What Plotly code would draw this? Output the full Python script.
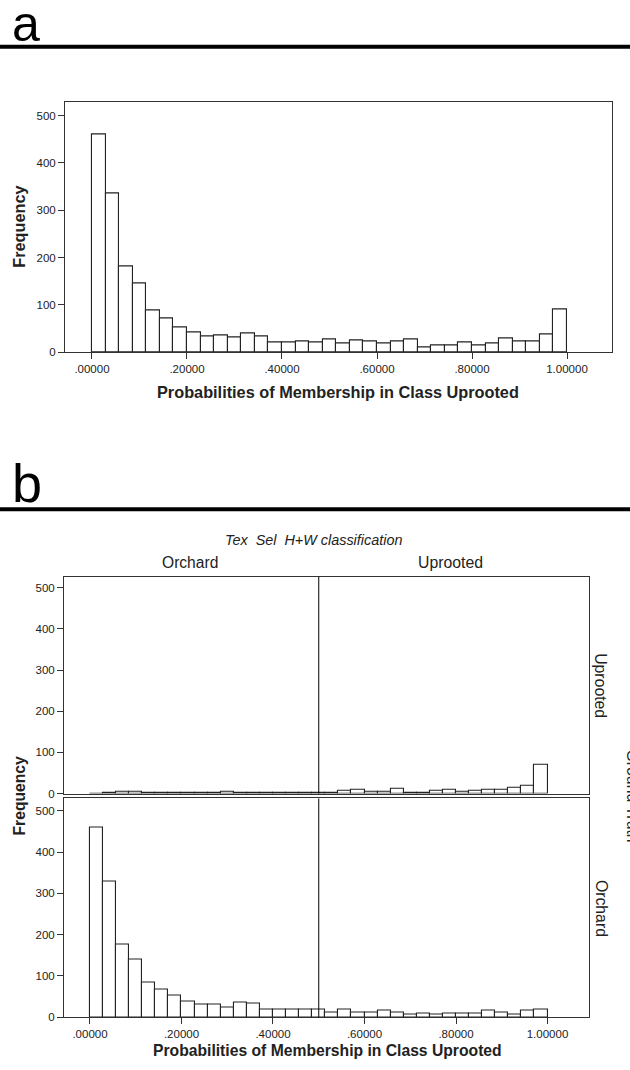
import numpy as np
import plotly.graph_objects as go

# ---------------- data ----------------
n_bins = 35
# panel a : all cases
freq_all = [460, 335, 182, 146, 89, 72, 53, 41, 32, 35, 30, 39, 34, 20, 21, 23, 21,
            26, 18, 25, 22, 19, 23, 26, 10, 13, 15, 20, 15, 18, 28, 23, 22, 38, 91]
# panel b : ground truth = Uprooted
freq_gt_uprooted = [0, 1, 4, 5, 2, 2, 1, 2, 3, 2, 5, 2, 1, 2, 2, 2, 3, 3,
                    3, 6, 10, 5, 5, 12, 1, 1, 6, 10, 4, 7, 10, 10, 14, 20, 70]
# panel b : ground truth = Orchard
freq_gt_orchard = [459, 330, 177, 141, 85, 68, 52, 38, 30, 31, 24, 35, 33, 18, 18, 20, 18,
                   20, 12, 18, 12, 11, 17, 12, 7, 10, 7, 9, 9, 9, 17, 12, 7, 16, 20]
tick_vals = [0, 0.2, 0.4, 0.6, 0.8, 1.0]
tick_text = [".00000", ".20000", ".40000", ".60000", ".80000", "1.00000"]
y_ticks = [0, 100, 200, 300, 400, 500]
col_labels = ["Orchard", "Uprooted"]
row_labels = ["Uprooted", "Orchard"]
x_title = "Probabilities of Membership in Class Uprooted"
y_title = "Frequency"
facet_title = "Tex  Sel  H+W classification"
row_var = "Ground Truth"

bin_w = 1.0 / n_bins
centers = (np.arange(n_bins) + 0.5) * bin_w

W, H = 630, 1070
FONT = "Liberation Sans, Arial, Helvetica, sans-serif"
INK = "#222222"


def px(x):
    return x / W


def py(y):
    return 1 - y / H


fig = go.Figure()

bar_style = dict(marker=dict(color="white", line=dict(color=INK, width=1.1)),
                 width=bin_w, showlegend=False, hoverinfo="x+y")

fig.add_trace(go.Bar(x=centers, y=freq_all, xaxis="x", yaxis="y", **bar_style))
fig.add_trace(go.Bar(x=centers, y=freq_gt_uprooted, xaxis="x2", yaxis="y2", **bar_style))
fig.add_trace(go.Bar(x=centers, y=freq_gt_orchard, xaxis="x3", yaxis="y3", **bar_style))

axis_common = dict(showline=True, mirror=True, linecolor="#333333", linewidth=1,
                   showgrid=False, zeroline=False, ticks="outside", ticklen=6,
                   tickcolor="#333333", tickwidth=1,
                   tickfont=dict(family=FONT, size=11.5, color=INK))

xa = dict(axis_common, tickvals=tick_vals, ticktext=tick_text)
ya = dict(axis_common, tickvals=y_ticks)

fig.update_layout(
    width=W, height=H, margin=dict(l=0, r=0, t=0, b=0),
    paper_bgcolor="white", plot_bgcolor="white", bargap=0,
    xaxis=dict(xa, domain=[px(65), px(612)], range=[-0.0568, 1.0947], anchor="y"),
    yaxis=dict(ya, domain=[py(354), py(103)], range=[0, 528], anchor="x"),
    xaxis2=dict(xa, domain=[px(64), px(589)], range=[-0.0568, 1.0907], anchor="y2",
                showticklabels=False, ticks=""),
    yaxis2=dict(ya, domain=[py(798), py(580)], range=[0, 526.5], anchor="x2"),
    xaxis3=dict(xa, domain=[px(64), px(589)], range=[-0.0568, 1.0907], anchor="y3"),
    yaxis3=dict(ya, domain=[py(1023), py(803)], range=[0, 530], anchor="x3"),
)

shapes = [
    # heavy rules under panel letters
    dict(type="line", xref="paper", yref="paper", x0=0, x1=1, y0=py(47), y1=py(47),
         line=dict(color="black", width=4)),
    dict(type="line", xref="paper", yref="paper", x0=0, x1=1, y0=py(512), y1=py(512),
         line=dict(color="black", width=4)),
    # column divider at 0.5 in both rows
    dict(type="line", xref="x2", yref="y2 domain", x0=0.5, x1=0.5, y0=0, y1=1,
         line=dict(color="black", width=1)),
    dict(type="line", xref="x3", yref="y3 domain", x0=0.5, x1=0.5, y0=0, y1=1,
         line=dict(color="black", width=1)),
]

ann = []


def text(x, y, s, size, bold=False, italic=False, angle=0, xanchor="center", yanchor="middle",
         color=INK, yshift=0):
    t = s
    if bold:
        t = "<b>" + t + "</b>"
    if italic:
        t = "<i>" + t + "</i>"
    ann.append(dict(x=px(x), y=py(y), xref="paper", yref="paper", text=t, showarrow=False,
                    textangle=angle, xanchor=xanchor, yanchor=yanchor, yshift=yshift,
                    font=dict(family=FONT, size=size, color=color)))


# panel letters
text(10, 0, "a", 50, xanchor="left", yanchor="top", color="black", yshift=6)
text(10, 486, "b", 54, xanchor="left", color="black")

# panel a titles
text(338, 394, x_title, 16.3, bold=True)
text(19, 228, y_title, 16.3, bold=True, angle=-90)

# panel b titles
text(313, 543, facet_title, 14.4, italic=True)
text(190, 566, col_labels[0], 15.6)
text(450, 566, col_labels[1], 15.8)
text(601, 689, row_labels[0], 15.8, angle=90)
text(601, 913, row_labels[1], 15.8, angle=90)
text(632, 800, row_var, 15.8, angle=90)
text(327, 1056, x_title, 15.7, bold=True)
text(20, 800, y_title, 15.7, bold=True, angle=-90)

fig.update_layout(shapes=shapes, annotations=ann)

fig.write_html("out.html", config={"displayModeBar": False},
               post_script="document.body.style.margin='0';document.body.style.padding='0';")
